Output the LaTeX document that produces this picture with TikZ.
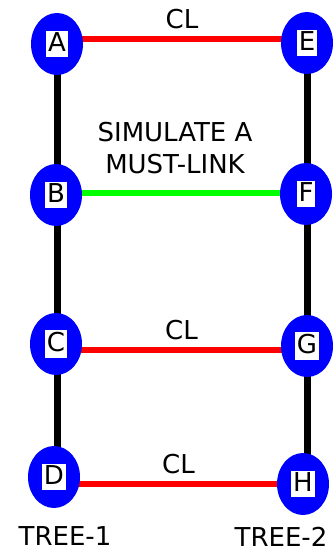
\documentclass[tikz,border=0pt]{standalone}
\usepackage{fontspec}
\setmainfont{DejaVu Sans}
\usetikzlibrary{shapes.geometric,backgrounds}
\newcommand{\letterbox}[1]{{\setlength{\fboxsep}{1pt}\colorbox{white}{\rule[-2pt]{0pt}{11pt}#1}}}

\begin{document}
\begin{tikzpicture}[
  x=0.5pt,y=-0.5pt,
  treenode/.style={ellipse,fill=blue,inner sep=0pt,minimum width=26pt,minimum height=31pt},
  trunk/.style={line width=3.5pt,black},
  cannot/.style={line width=3pt,red},
  must/.style={line width=3pt,green},
  every node/.style={font=\fontsize{13}{15.6}\selectfont,text=black}
]
  \useasboundingbox (0,0) rectangle (335,550);
  % tree 1
  \node[treenode] (A) at (57,44) {\letterbox{A}};
  \node[treenode] (B) at (56,195) {\letterbox{B}};
  \node[treenode] (C) at (56,344) {\letterbox{C}};
  \node[treenode] (D) at (54,477) {\letterbox{D}};
  % tree 2
  \node[treenode] (E) at (307,43) {\letterbox{E}};
  \node[treenode] (F) at (306,194) {\letterbox{F}};
  \node[treenode] (G) at (307,346) {\letterbox{G}};
  \node[treenode] (H) at (303,484) {\letterbox{H}};

  \begin{scope}[on background layer]
    \draw[trunk] (A.center) -- (A |- D);
    \draw[trunk] (E.center) -- (E |- H);
    \draw[cannot] ([yshift=2.5pt]A.center) -- ([yshift=2.5pt]A.center -| E)
      node[midway,above] (clAE) {CL};
    \draw[must] ([yshift=1pt]B.center) -- ([yshift=1pt]B.center -| F);
    \draw[cannot] ([yshift=-3pt]C.center) -- ([yshift=-3pt]C.center -| G)
      node[midway,above] (clCG) {CL};
    \draw[cannot] (D |- H) -- (H.center)
      node[midway,above] (clDH) {CL};
  \end{scope}

  \node[align=center] (sim) at (175,148) {SIMULATE A\\MUST-LINK};
  \node (tree1) at (65,536) {TREE-1};
  \node (tree2) at (281,537) {TREE-2};
\end{tikzpicture}
\end{document}
